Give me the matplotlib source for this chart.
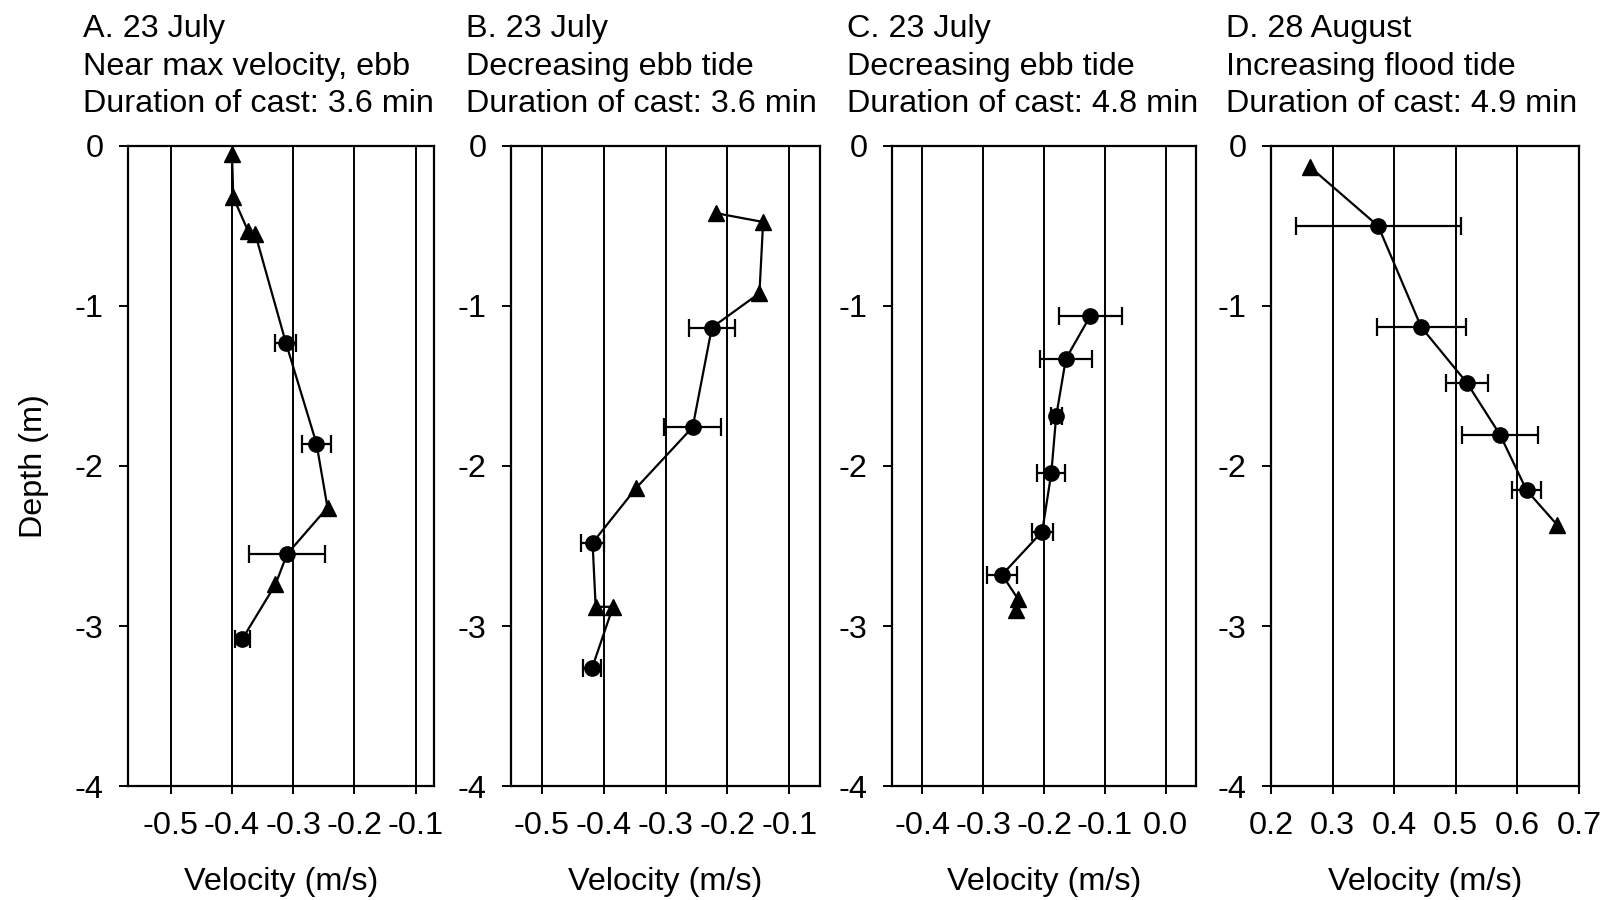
import matplotlib
matplotlib.use("Agg")
import matplotlib.pyplot as plt
import numpy as np

plt.rcParams["font.family"] = ["Liberation Sans", "DejaVu Sans"]
plt.rcParams["axes.unicode_minus"] = False

# panel data, in line order (depth m, velocity m/s, half-width of error bar, marker kind)
a_depth = [-0.05, -0.32, -0.53, -0.55, -1.23, -1.86, -2.26, -2.55, -2.74, -3.08]
a_vel = [-0.400, -0.398, -0.374, -0.362, -0.312, -0.262, -0.244, -0.310, -0.329, -0.383]
a_err = [0, 0, 0, 0, 0.017, 0.023, 0, 0.062, 0, 0.012]
a_kind = ["t", "t", "t", "t", "c", "c", "t", "c", "t", "c"]

b_depth = [-0.42, -0.475, -0.92, -1.135, -1.757, -2.14, -2.48, -2.88, -2.88, -3.265]
b_vel = [-0.218, -0.142, -0.148, -0.225, -0.256, -0.348, -0.418, -0.413, -0.385, -0.419]
b_err = [0, 0, 0, 0.037, 0.046, 0, 0.018, 0, 0, 0.015]
b_kind = ["t", "t", "t", "c", "c", "t", "c", "t", "t", "c"]

c_depth = [-1.063, -1.33, -1.69, -2.045, -2.41, -2.68, -2.83, -2.90]
c_vel = [-0.124, -0.164, -0.180, -0.188, -0.203, -0.269, -0.243, -0.246]
c_err = [0.052, 0.043, 0.009, 0.023, 0.017, 0.025, 0, 0]
c_kind = ["c", "c", "c", "c", "c", "c", "t", "t"]

d_depth = [-0.13, -0.50, -1.133, -1.48, -1.806, -2.152, -2.37]
d_vel = [0.263, 0.374, 0.444, 0.518, 0.572, 0.615, 0.665]
d_err = [0, 0.134, 0.072, 0.034, 0.062, 0.023, 0]
d_kind = ["t", "c", "c", "c", "c", "c", "t"]

titles = [
    ["A. 23 July", "Near max velocity, ebb", "Duration of cast: 3.6 min"],
    ["B. 23 July", "Decreasing ebb tide", "Duration of cast: 3.6 min"],
    ["C. 23 July", "Decreasing ebb tide", "Duration of cast: 4.8 min"],
    ["D. 28 August", "Increasing flood tide", "Duration of cast: 4.9 min"],
]
x_limits = [(-0.57, -0.07), (-0.55, -0.05), (-0.45, 0.05), (0.2, 0.7)]
x_ticks = [
    [-0.5, -0.4, -0.3, -0.2, -0.1],
    [-0.5, -0.4, -0.3, -0.2, -0.1],
    [-0.4, -0.3, -0.2, -0.1, 0.0],
    [0.2, 0.3, 0.4, 0.5, 0.6, 0.7],
]
depth_ticks = [0, -1, -2, -3, -4]

panels = [
    (a_depth, a_vel, a_err, a_kind),
    (b_depth, b_vel, b_err, b_kind),
    (c_depth, c_vel, c_err, c_kind),
    (d_depth, d_vel, d_err, d_kind),
]

W, H = 1605, 900
fig = plt.figure(figsize=(W / 100, H / 100), dpi=100)
fs = 23.3

# axes edges in pixels
lefts = [128, 511, 892, 1271]
rights = [434, 820, 1196, 1579]
top, bottom = 146, 786

for i, (depth, vel, err, kind) in enumerate(panels):
    ax = fig.add_axes([lefts[i] / W, 1 - bottom / H,
                       (rights[i] - lefts[i]) / W, (bottom - top) / H])
    depth = np.array(depth)
    vel = np.array(vel)
    err = np.array(err)
    kind = np.array(kind)

    ax.plot(vel, depth, color="black", lw=1.6, zorder=3)

    circ = kind == "c"
    ax.errorbar(vel[circ], depth[circ], xerr=err[circ], fmt="o", color="black",
                ms=11, ecolor="black", elinewidth=1.6, capsize=6.5, capthick=1.6,
                zorder=4)
    tri = kind == "t"
    ax.plot(vel[tri], depth[tri], "^", color="black", ms=11, zorder=4)

    ax.set_xlim(*x_limits[i])
    ax.set_ylim(-4, 0)
    ax.set_xticks(x_ticks[i])
    ax.set_xticklabels([f"{v:.1f}" for v in x_ticks[i]], fontsize=fs)
    ax.set_yticks(depth_ticks)
    ax.set_yticklabels([str(d) for d in depth_ticks], fontsize=fs)
    ax.grid(axis="x", color="black", lw=1.4)
    ax.set_axisbelow(True)
    for sp in ax.spines.values():
        sp.set_linewidth(1.6)
    ax.tick_params(axis="x", direction="out", length=6, width=1.4, pad=12)
    ax.tick_params(axis="y", direction="out", length=6.5, width=1.4, pad=11)
    ax.set_xlabel("Velocity (m/s)", fontsize=fs, labelpad=19)

    for j, line in enumerate(titles[i]):
        fig.text((lefts[i] - 45) / W, 1 - (37 + 37.5 * j) / H, line,
                 fontsize=fs, ha="left", va="baseline")

fig.text(34 / W, 1 - 466 / H, "Depth (m)", rotation=90, fontsize=fs,
         ha="center", va="center")

fig.savefig("out.png", dpi=100)
